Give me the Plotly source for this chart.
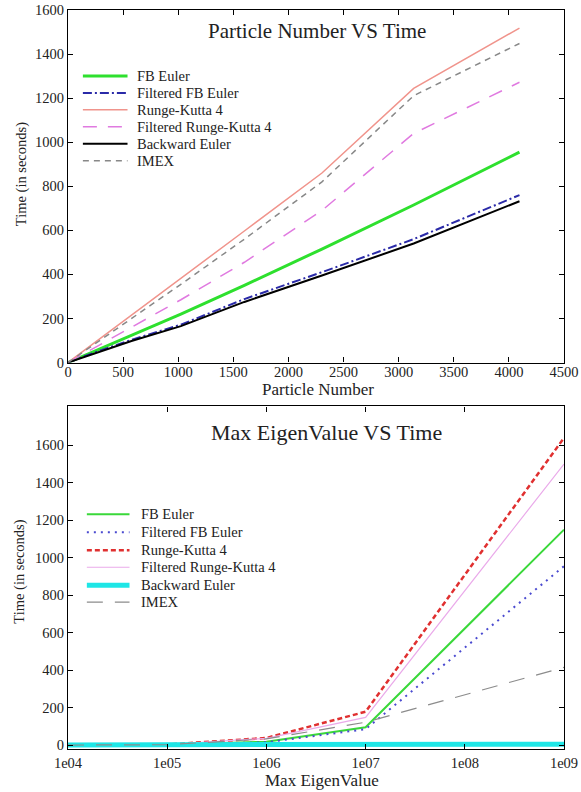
import plotly.graph_objects as go

# ---- Particle number benchmark ----
particle_number = [0, 256, 576, 1024, 1600, 2304, 3136, 4096]
pn_fb_euler = [0, 55, 122, 220, 350, 515, 715, 955]
pn_filtered_fb_euler = [0, 48, 103, 172, 288, 410, 560, 760]
pn_rk4 = [0, 95, 214, 380, 597, 860, 1244, 1518]
pn_filtered_rk4 = [0, 72, 160, 285, 455, 690, 1040, 1272]
pn_backward_euler = [0, 45, 98, 165, 275, 395, 540, 732]
pn_imex = [0, 88, 200, 355, 560, 820, 1211, 1448]

# ---- Max eigenvalue benchmark ----
max_eigenvalue = [1e4, 1e5, 1e6, 1e7, 1e9]
ev_fb_euler = [0, 2, 18, 95, 1150]
ev_filtered_fb_euler = [0, 1, 15, 85, 955]
ev_rk4 = [0, 3, 38, 178, 1640]
ev_filtered_rk4 = [0, 3, 36, 148, 1500]
ev_backward_euler = [1, 1, 2, 3, 5]
ev_imex = [0, 2, 33, 122, 415]

method_names = ["FB Euler", "Filtered FB Euler", "Runge-Kutta 4",
                "Filtered Runge-Kutta 4", "Backward Euler", "IMEX"]

eig_tick_vals = [1e4, 1e5, 1e6, 1e7, 1e8, 1e9]
eig_tick_text = ["1e04", "1e05", "1e06", "1e07", "1e08", "1e09"]

FONT = "Liberation Serif"
TXT = "#222222"
W, H = 581, 792


def vy(y):
    # vertical page position -> layout pixel (page shows the figure 8px lower, slightly squeezed)
    return (y - 8) / 0.99


# plot area in pixels
L, R = 68, 568
T, B = vy(10), vy(750)


def px(xp):
    return (xp - L) / (R - L)


def py(yp):
    return (B - vy(yp)) / (B - T)


top_lines = [
    dict(color="#2ee02e", width=3),
    dict(color="#2a2aa8", width=2, dash="9px,3px,2px,3px"),
    dict(color="#f0948c", width=1.5),
    dict(color="#e07ae0", width=1.5, dash="14px,11px"),
    dict(color="#000000", width=2),
    dict(color="#888888", width=1.5, dash="6px,5px"),
]
bottom_lines = [
    dict(color="#3ad83a", width=2),
    dict(color="#4a4ad0", width=2, dash="2px,5px"),
    dict(color="#e03030", width=2.5, dash="5px,3px"),
    dict(color="#eaaaea", width=1.2),
    dict(color="#1ee6e6", width=5),
    dict(color="#8c8c8c", width=1.2, dash="16px,12px"),
]

top_series = [pn_fb_euler, pn_filtered_fb_euler, pn_rk4,
              pn_filtered_rk4, pn_backward_euler, pn_imex]
bottom_series = [ev_fb_euler, ev_filtered_fb_euler, ev_rk4,
                 ev_filtered_rk4, ev_backward_euler, ev_imex]

fig = go.Figure()
for name, ys, line in zip(method_names, top_series, top_lines):
    fig.add_trace(go.Scatter(x=particle_number, y=ys, name=name, mode="lines",
                             line=line, xaxis="x", yaxis="y", showlegend=False))
for name, ys, line in zip(method_names, bottom_series, bottom_lines):
    fig.add_trace(go.Scatter(x=max_eigenvalue, y=ys, name=name, mode="lines",
                             line=line, xaxis="x2", yaxis="y2", showlegend=False))

axis_common = dict(
    showline=True, linecolor="black", linewidth=1.2, mirror="ticks",
    ticks="inside", ticklen=5, tickcolor="black", showgrid=False, zeroline=False,
    tickfont=dict(family=FONT, size=14.5, color=TXT), ticklabeloverflow="allow",
)

fig.update_layout(
    width=W, height=H,
    margin=dict(l=L, r=W - R, t=T, b=H - B),
    paper_bgcolor="white", plot_bgcolor="white",
    font=dict(family=FONT, color=TXT),
    xaxis=dict(domain=[0, 1], anchor="y", range=[0, 4500], dtick=500,
               ticklabelstandoff=-4, **axis_common),
    yaxis=dict(domain=[py(363), 1], anchor="x", range=[0, 1600], dtick=200, **axis_common),
    xaxis2=dict(domain=[0, 1], anchor="y2", type="log", range=[4, 9],
                tickvals=eig_tick_vals, ticktext=eig_tick_text, **axis_common),
    yaxis2=dict(domain=[0, py(407)], anchor="x2", range=[-21, 1808],
                tickvals=[0, 200, 400, 600, 800, 1000, 1200, 1400, 1600], **axis_common),
    showlegend=False,
)

annotations = [
    dict(text="Particle Number VS Time", x=px(319), y=py(31), size=21),
    dict(text="Max EigenValue VS Time", x=px(329), y=py(433), size=22),
    dict(text="Particle Number", x=px(320), y=py(390), size=17),
    dict(text="Max EigenValue", x=px(324), y=py(782), size=17),
    dict(text="Time (in seconds)", x=px(21), y=py(174), size=14.5, textangle=-90),
    dict(text="Time (in seconds)", x=px(19), y=py(572), size=14.5, textangle=-90),
]
shapes = []

# legend keys for both panels
legend_specs = [
    (top_lines, [76, 93, 110, 127, 144, 161], 83, 128, 136),
    (bottom_lines, [515, 533, 551, 568, 586, 603], 87, 130, 140),
]
for lines, rows, x0, x1, xt in legend_specs:
    for name, line, yr in zip(method_names, lines, rows):
        shapes.append(dict(type="line", xref="paper", yref="paper",
                           x0=px(x0), x1=px(x1), y0=py(yr), y1=py(yr), line=line))
        annotations.append(dict(text=name, x=px(xt), y=py(yr), size=14.5, xanchor="left"))

ann_objs = []
for a in annotations:
    size = a.pop("size")
    a.setdefault("xanchor", "center")
    a.update(xref="paper", yref="paper", showarrow=False, yanchor="middle",
             font=dict(family=FONT, size=size, color=TXT))
    ann_objs.append(a)

fig.update_layout(annotations=ann_objs, shapes=shapes)

fig.write_html("out.html")
